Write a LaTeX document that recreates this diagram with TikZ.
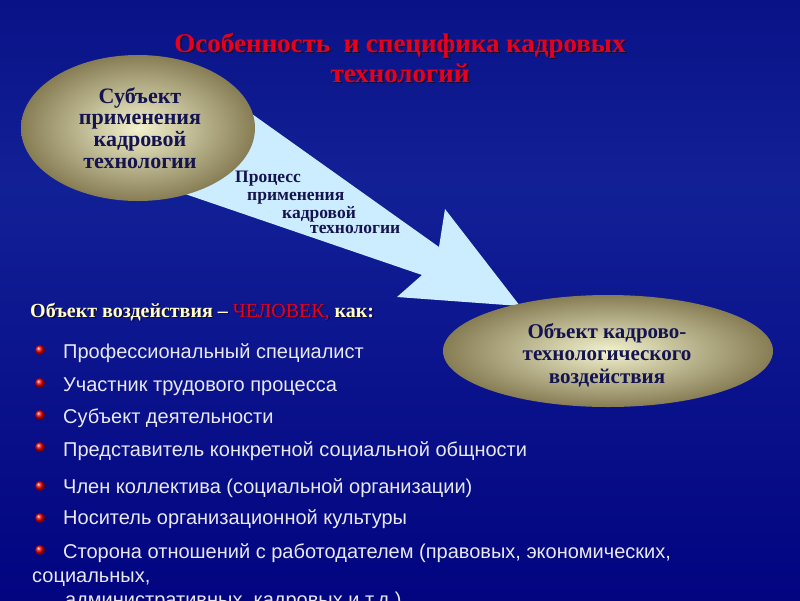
\documentclass[tikz,border=0pt]{standalone}
\usepackage{fontspec}
\setmainfont{Liberation Serif}
\newfontfamily\arialf{Liberation Sans}
\definecolor{bgtop}{RGB}{10,18,135}
\definecolor{bgmid}{RGB}{18,32,150}
\definecolor{bgbot}{RGB}{2,4,128}
\definecolor{navytext}{RGB}{20,20,80}
\definecolor{arrowblue}{RGB}{204,236,255}
\definecolor{ellin}{RGB}{242,242,205}
\definecolor{ellout}{RGB}{135,125,85}
\definecolor{titlered}{RGB}{230,0,30}
\definecolor{paleyellow}{RGB}{255,255,200}
\definecolor{itemtext}{RGB}{232,232,240}
\definecolor{shadowcol}{RGB}{20,10,60}
% text with a drop shadow, in one box
\newcommand\withshadow[1]{\makebox[0pt][l]{\raisebox{-1.6pt}{\hspace{1.6pt}\color{shadowcol}\let\hlred\relax\let\hlyel\relax#1}}#1}
\newcommand\hlred{\color{titlered}}
\newcommand\hlyel{\color{paleyellow}}
\tikzset{
  every node/.style={inner sep=0pt},
  ellbox/.style={inner color=ellin, outer color=ellout},
  ellipsetext/.style={align=center, text=navytext},
  titletext/.style={anchor=base, text=titlered, font=\bfseries\fontsize{27}{30}\selectfont},
  proctext/.style={anchor=base west, text=navytext, font=\bfseries\fontsize{17.5}{19}\selectfont},
  itemline/.style={anchor=base west, text=itemtext, font=\arialf\fontsize{20}{22}\selectfont},
  bulletball/.style={ball color=red!90!black},
}
\begin{document}
\begin{tikzpicture}[x=1pt,y=-1pt]
\useasboundingbox (0,0) rectangle (800,600);
\clip (0,0) rectangle (800,600);
% background
\shade[top color=bgtop, bottom color=bgmid] (0,0) rectangle (800,185);
\shade[top color=bgmid, bottom color=bgbot] (0,185) rectangle (800,600);
% title
\node (title1) [titletext] at (400,52) {\withshadow{Особенность\ \ и специфика кадровых}};
\node (title2) [titletext] at (400,82) {\withshadow{технологий}};
% arrow
\fill[arrowblue] (200,77) -- (439,247) -- (445,209) -- (520,306) -- (397,297) -- (422,275) -- (150,182) -- cycle;
% ellipses
\shade[ellbox] (138,128) ellipse[x radius=117, y radius=73];
\node (subj) [ellipsetext, font=\bfseries\fontsize{22}{21.7}\selectfont] at (140,128) {Субъект\\применения\\кадровой\\технологии};
\shade[ellbox] (608,351) ellipse[x radius=165, y radius=56];
\node (obj) [ellipsetext, font=\bfseries\fontsize{21}{22.5}\selectfont] at (607,355) {Объект кадрово-\\технологического\\воздействия};
% process text
\node (p1) [proctext] at (235,182) {Процесс};
\node (p2) [proctext] at (247,200) {применения};
\node (p3) [proctext] at (282,218) {кадровой};
\node (p4) [proctext] at (310,233) {технологии};
% heading
\node (head) [anchor=base west, text=paleyellow, font=\bfseries\fontsize{20}{22}\selectfont] at (30,317) {\withshadow{{\hlyel Объект воздействия – }{\hlred\mdseries ЧЕЛОВЕК,}{\hlyel\ как:}}};
% bullets
\foreach \y in {350,383,415,447,486,518,550} {\shade[bulletball] (40,\y) circle[radius=5];}
\node (i1) [itemline] at (63,358) {Профессиональный специалист};
\node (i2) [itemline] at (63,391) {Участник трудового процесса};
\node (i3) [itemline] at (63,423) {Субъект деятельности};
\node (i4) [itemline] at (63,456) {Представитель конкретной социальной общности};
\node (i5) [itemline] at (63,493) {Член коллектива (социальной организации)};
\node (i6) [itemline] at (63,524) {Носитель организационной культуры};
\node (i7) [itemline] at (63,558) {Сторона отношений с работодателем (правовых, экономических,};
\node (i8) [itemline] at (32,582) {социальных,};
\node (i9) [itemline] at (65,606) {административных, кадровых и т.д.)};
\end{tikzpicture}
\end{document}
